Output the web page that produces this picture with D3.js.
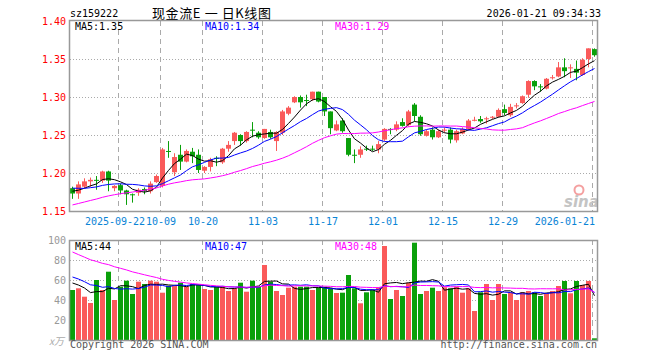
<!DOCTYPE html>
<html><head><meta charset="utf-8">
<script src="https://cdn.jsdelivr.net/npm/d3@7/dist/d3.min.js"></script>
<style>body{margin:0;background:#fff}svg{display:block}</style>
</head><body>
<svg id="c" width="660" height="360"></svg>
<script>
// ---------- data ----------
const dates = ["2025-09-10","2025-09-11","2025-09-12","2025-09-15","2025-09-16","2025-09-17","2025-09-18","2025-09-19",
"2025-09-22","2025-09-23","2025-09-24","2025-09-25","2025-09-26","2025-09-29","2025-09-30","2025-10-09","2025-10-10",
"2025-10-13","2025-10-14","2025-10-15","2025-10-16","2025-10-17","2025-10-20","2025-10-21","2025-10-22","2025-10-23","2025-10-24",
"2025-10-27","2025-10-28","2025-10-29","2025-10-30","2025-10-31","2025-11-03","2025-11-04","2025-11-05","2025-11-06","2025-11-07",
"2025-11-10","2025-11-11","2025-11-12","2025-11-13","2025-11-14","2025-11-17","2025-11-18","2025-11-19","2025-11-20","2025-11-21",
"2025-11-24","2025-11-25","2025-11-26","2025-11-27","2025-11-28","2025-12-01","2025-12-02","2025-12-03","2025-12-04","2025-12-05",
"2025-12-08","2025-12-09","2025-12-10","2025-12-11","2025-12-12","2025-12-15","2025-12-16","2025-12-17","2025-12-18","2025-12-19",
"2025-12-22","2025-12-23","2025-12-24","2025-12-25","2025-12-26","2025-12-29","2025-12-30","2025-12-31","2026-01-05","2026-01-06",
"2026-01-07","2026-01-08","2026-01-09","2026-01-12","2026-01-13","2026-01-14","2026-01-15","2026-01-16","2026-01-19","2026-01-20","2026-01-21"];

const opens = [1.180,1.173,1.182,1.189,1.191,1.190,1.202,1.180,1.184,1.177,1.172,1.174,1.179,1.176,1.188,1.183,1.229,1.201,1.224,1.215,
1.228,1.224,1.203,1.208,1.220,1.214,1.232,1.242,1.250,1.242,1.257,1.253,1.246,1.254,1.242,1.253,1.278,1.293,1.300,1.296,
1.297,1.307,1.300,1.281,1.256,1.269,1.246,1.224,1.224,1.232,1.232,1.231,1.244,1.258,1.257,1.267,1.263,1.290,1.274,1.249,
1.257,1.247,1.256,1.257,1.243,1.252,1.258,1.270,1.271,1.272,1.273,1.274,1.284,1.276,1.2885,1.292,1.303,1.321,1.314,1.311,
1.326,1.327,1.339,1.339,1.337,1.329,1.350,1.363];
const highs = [1.182,1.189,1.193,1.194,1.196,1.203,1.203,1.184,1.186,1.178,1.173,1.180,1.181,1.189,1.198,1.233,1.242,1.226,1.237,1.231,
1.233,1.231,1.209,1.220,1.222,1.233,1.242,1.254,1.251,1.255,1.267,1.255,1.258,1.257,1.255,1.283,1.288,1.301,1.302,1.303,
1.307,1.307,1.300,1.281,1.269,1.272,1.246,1.231,1.235,1.236,1.236,1.242,1.259,1.259,1.268,1.272,1.283,1.292,1.276,1.257,
1.260,1.257,1.260,1.260,1.257,1.260,1.271,1.274,1.275,1.274,1.275,1.285,1.290,1.291,1.292,1.302,1.322,1.322,1.317,1.325,
1.329,1.346,1.351,1.343,1.348,1.351,1.364,1.364];
const lows = [1.166,1.166,1.180,1.182,1.178,1.187,1.176,1.176,1.172,1.158,1.161,1.170,1.172,1.173,1.187,1.181,1.220,1.196,1.204,1.214,
1.213,1.200,1.200,1.202,1.209,1.212,1.228,1.237,1.236,1.240,1.247,1.245,1.245,1.245,1.229,1.250,1.276,1.292,1.286,1.288,
1.295,1.293,1.275,1.251,1.255,1.253,1.222,1.213,1.220,1.229,1.229,1.226,1.242,1.251,1.255,1.261,1.261,1.268,1.249,1.248,
1.244,1.246,1.253,1.239,1.240,1.251,1.256,1.268,1.266,1.265,1.271,1.273,1.276,1.274,1.285,1.291,1.299,1.309,1.307,1.310,
1.323,1.326,1.326,1.325,1.322,1.328,1.339,1.353];
const closes = [1.173,1.185,1.189,1.191,1.190,1.202,1.190,1.183,1.177,1.172,1.171,1.178,1.176,1.186,1.196,1.231,1.228,1.221,1.215,1.229,
1.222,1.204,1.208,1.218,1.219,1.232,1.237,1.253,1.242,1.254,1.256,1.247,1.258,1.247,1.254,1.281,1.286,1.300,1.293,1.295,
1.307,1.294,1.281,1.259,1.264,1.255,1.224,1.223,1.231,1.231,1.231,1.238,1.258,1.257,1.264,1.262,1.281,1.275,1.251,1.255,
1.247,1.255,1.257,1.244,1.255,1.258,1.269,1.270,1.268,1.272,1.274,1.283,1.279,1.287,1.289,1.301,1.321,1.314,1.313,1.324,
1.326,1.339,1.334,1.339,1.332,1.349,1.364,1.355];
// closes before the first visible day (estimated from the moving-average lines)
const priorCloses = [1.128,1.130,1.131,1.133,1.134,1.135,1.136,1.137,1.138,1.140,1.141,1.142,1.144,1.145,1.153,
1.160,1.168,1.175,1.182,1.188,1.186,1.190,1.182,1.180,1.182,1.178,1.176,1.175,1.178];

const volumes = [50,51.7,43.3,37,60,50,68.3,40,53.3,59.3,46,58.3,56,59.3,58.3,47.3,54.3,54.3,57.3,53.3,
56,55,51,50,53.3,53.3,49,51.7,57.3,48.3,59.3,53.3,75,58.3,49,45,52.3,53.3,53.3,53.3,
50,52.3,53.3,51.7,47,47.3,65,51.7,36.7,47.7,50,52.7,94,41,50,44,57.3,97.3,46,49,
52.3,49,52.7,51.7,53.3,47.3,51.7,29,47.7,56,40,56,46,47.7,40,47.7,49,47.7,44,46.7,
49,54,59,46.7,59,55,59,1.7];
// volumes before the first visible day (estimated from the moving-average lines)
const priorVolumes = [130,120,115,110,108,106,104,100,108,104,102,100,102,98,100,88,82,80,78,75,72,70,68,67,68,62,58,60,55];

const tickDates = ["2025-09-22","2025-10-09","2025-10-20","2025-11-03","2025-11-17","2025-12-01","2025-12-15","2025-12-29","2026-01-21"];
const tickLabels = ["2025-09-22","10-09","10-20","11-03","11-17","12-01","12-15","12-29","2026-01-21"];
const priceTicks = [1.15,1.20,1.25,1.30,1.35,1.40];
const volTicks = [20,40,60,80,100];
const maPeriods = [5,10,30];
const maColors = ["#000000","#0000ff","#ff00ff"];

// ---------- drawing ----------
const svg = d3.select("#c");
const n = closes.length;
const mono = "'DejaVu Sans Mono', monospace";
const RED = "#fa5a5a", GREEN = "#0aa00a", GRID = "#aaaaaa", FRAME = "#999999";

const x = d3.scaleBand().domain(d3.range(n)).range([70, 597]).paddingInner(1/6).paddingOuter(0);
const bw = x.bandwidth();
const cx = i => x(i) + bw / 2;
const y = d3.scaleLinear().domain([1.15, 1.40]).range([211, 21]);
const yv = d3.scaleLinear().domain([0, 100]).range([340, 240]);

function movingAvg(prior, vals, p) {
  const all = prior.concat(vals), off = prior.length;
  return vals.map((_, i) => d3.mean(all.slice(off + i - p + 1, off + i + 1)));
}
const priceMA = maPeriods.map(p => movingAvg(priorCloses, closes, p));
const volMA = maPeriods.map(p => movingAvg(priorVolumes, volumes, p));
const tickIdx = tickDates.map(d => dates.indexOf(d));
const up = i => closes[i] >= opens[i];

// header
svg.append("text").attr("x", 70).attr("y", 17).attr("font-family", mono).attr("font-size", 10).text("sz159222");
svg.append("text").attr("x", 152).attr("y", 18).attr("font-family", "'Noto Sans CJK SC', sans-serif").attr("font-size", 13)
  .attr("textLength", 119).attr("lengthAdjust", "spacing").text("现金流E 一 日K线图");
svg.append("text").attr("x", 601).attr("y", 17).attr("text-anchor", "end").attr("font-family", mono).attr("font-size", 10)
  .text("2026-01-21 09:34:33");

function panel(top, bottom, yScale, ticks) {
  const g = svg.append("g");
  g.selectAll(".h").data(ticks.filter(t => yScale(t) > top + 1 && yScale(t) < bottom - 1)).enter().append("line")
    .attr("x1", 70).attr("x2", 597).attr("y1", t => Math.round(yScale(t)) + 0.5).attr("y2", t => Math.round(yScale(t)) + 0.5)
    .attr("stroke", GRID).attr("stroke-dasharray", "1,2");
  g.selectAll(".v").data(tickIdx).enter().append("line")
    .attr("x1", i => x(i) + 0.5).attr("x2", i => x(i) + 0.5).attr("y1", top).attr("y2", bottom)
    .attr("stroke", GRID).attr("stroke-dasharray", "5,4");
  return g;
}

// price panel
panel(21, 211, y, priceTicks);
// sina watermark
svg.append("circle").attr("cx", 579).attr("cy", 190).attr("r", 4.5).attr("fill", "none").attr("stroke", "#f4a0a0").attr("stroke-width", 2);
svg.append("text").attr("x", 564).attr("y", 207).attr("font-family", "'DejaVu Sans', sans-serif").attr("font-weight", "bold")
  .attr("font-style", "italic").attr("font-size", 15).attr("fill", "#c4c4c4").text("sina");

const candles = svg.append("g");
candles.selectAll(".w").data(d3.range(n)).enter().append("line")
  .attr("x1", i => Math.floor(cx(i)) + 0.5).attr("x2", i => Math.floor(cx(i)) + 0.5)
  .attr("y1", i => y(highs[i])).attr("y2", i => y(lows[i]))
  .attr("stroke", i => up(i) ? RED : GREEN).attr("stroke-width", 1);
candles.selectAll(".b").data(d3.range(n)).enter().append("rect")
  .attr("x", i => x(i)).attr("width", bw)
  .attr("y", i => Math.min(y(opens[i]), y(closes[i])))
  .attr("height", i => Math.max(1, Math.abs(y(opens[i]) - y(closes[i]))))
  .attr("fill", i => up(i) ? RED : GREEN);

priceMA.forEach((ma, k) => {
  svg.append("path").datum(d3.range(n)).attr("fill", "none").attr("stroke", maColors[k]).attr("stroke-width", 1)
    .attr("d", d3.line().x(i => cx(i)).y(i => y(ma[i])));
});

// volume panel
panel(240, 340, yv, volTicks);
svg.append("g").selectAll("rect").data(d3.range(n)).enter().append("rect")
  .attr("x", i => x(i)).attr("width", bw)
  .attr("y", i => yv(volumes[i])).attr("height", i => 340 - yv(volumes[i]))
  .attr("fill", i => up(i) ? RED : GREEN);
volMA.forEach((ma, k) => {
  svg.append("path").datum(d3.range(n)).attr("fill", "none").attr("stroke", maColors[k]).attr("stroke-width", 1)
    .attr("d", d3.line().x(i => cx(i)).y(i => yv(ma[i])));
});

// frames
svg.append("rect").attr("x", 69.5).attr("y", 20.5).attr("width", 528).attr("height", 191).attr("fill", "none").attr("stroke", FRAME).attr("stroke-width", 1.5);
svg.append("rect").attr("x", 69.5).attr("y", 240.5).attr("width", 528).attr("height", 100).attr("fill", "none").attr("stroke", FRAME).attr("stroke-width", 1.5);

// axis labels
svg.selectAll(".pl").data(priceTicks).enter().append("text")
  .attr("x", 66).attr("y", d => y(d) + 3.5).attr("text-anchor", "end").attr("font-family", mono).attr("font-size", 10)
  .attr("fill", "#ff0000").text(d => d3.format(".2f")(d));
svg.selectAll(".vl").data(volTicks).enter().append("text")
  .attr("x", 66).attr("y", d => yv(d) + 3.5).attr("text-anchor", "end").attr("font-family", mono).attr("font-size", 10)
  .attr("fill", "#999999").text(d => d);
svg.append("text").attr("x", 64).attr("y", 345).attr("text-anchor", "end").attr("font-family", "'Noto Sans CJK SC', sans-serif")
  .attr("font-size", 10).attr("font-style", "italic").attr("fill", "#aaaaaa").text("x万");

// date labels (first one nudged left so it does not collide with the next)
const last = tickIdx.length - 1;
svg.selectAll(".dl").data(tickIdx).enter().append("text")
  .attr("x", (i, k) => k === last ? 595 : (k === 0 ? x(i) - 3 : x(i) + 1))
  .attr("text-anchor", (i, k) => k === last ? "end" : "middle")
  .attr("y", 225).attr("font-family", mono).attr("font-size", 10).attr("fill", "#0a84d6")
  .text((i, k) => tickLabels[k]);

// MA legends
const f2 = d3.format(".2f");
const legX = [75, 205, 335];
maPeriods.forEach((p, k) => {
  svg.append("text").attr("x", legX[k]).attr("y", 30).attr("font-family", mono).attr("font-size", 10).attr("fill", maColors[k])
    .text("MA" + p + ":" + f2(priceMA[k][n - 1]));
  svg.append("text").attr("x", legX[k]).attr("y", 250).attr("font-family", mono).attr("font-size", 10).attr("fill", maColors[k])
    .text("MA" + p + ":" + Math.round(volMA[k][n - 1]));
});

// footer
svg.append("text").attr("x", 70).attr("y", 348).attr("font-family", mono).attr("font-size", 10).attr("fill", "#555555")
  .text("Copyright 2026 SINA.COM");
svg.append("text").attr("x", 597).attr("y", 348).attr("text-anchor", "end").attr("font-family", mono).attr("font-size", 10)
  .attr("fill", "#555555").text("http://finance.sina.com.cn");
</script>
</body></html>
